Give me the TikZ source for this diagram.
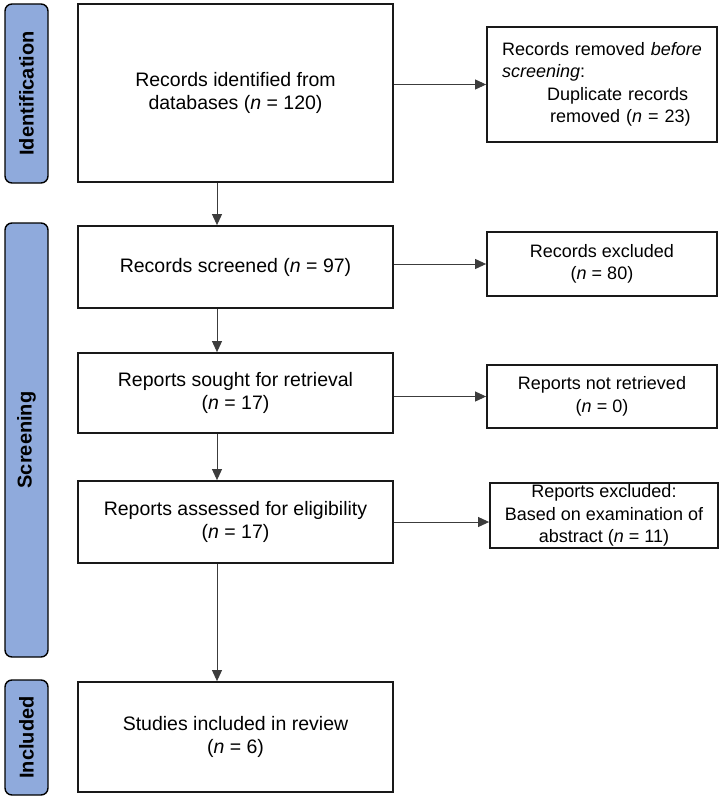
\documentclass[tikz,border=0pt]{standalone}
\usepackage{fontspec}
\setmainfont{Liberation Sans}
\usetikzlibrary{arrows.meta}
\definecolor{sideblue}{RGB}{143,170,220}
\definecolor{arrowgray}{RGB}{60,60,60}
\begin{document}
\begin{tikzpicture}[x=1pt,y=-1pt,
  mainbox/.style={draw=black!90, line width=1.8pt, rectangle, inner sep=0pt,
    minimum width=315pt, align=center,
    font=\fontsize{19.5}{23.5}\selectfont},
  sidebox/.style={draw=black!90, line width=1.8pt, rectangle, inner sep=0pt,
    minimum width=230pt, align=center,
    font=\fontsize{18}{22.5}\selectfont},
  phase/.style={draw=black, line width=1.4pt, fill=sideblue, rounded corners=7pt,
    rectangle, rotate=90, inner sep=0pt, minimum height=43pt,
    font=\fontsize{20}{24}\selectfont\bfseries},
  flow/.style={draw=arrowgray, line width=0.9pt, -{Triangle[length=11pt,width=10pt]}}
]
\useasboundingbox (0,0) rectangle (721,800);

% phase labels
\node[phase, minimum width=179pt] (s1) at (26.5,93.5) {Identification};
\node[phase, minimum width=434pt] (s2) at (26.5,440) {Screening};
\node[phase, minimum width=115pt] (s3) at (26.5,737.5) {Included};

% main column
\node[mainbox, minimum height=178pt] (b1) at (235.5,93) {Records identified from\\databases (\textit{n} = 120)};
\node[mainbox, minimum height=82pt] (b2) at (235.5,267) {Records screened (\textit{n} = 97)};
\node[mainbox, minimum height=80pt] (b3) at (235.5,393) {Reports sought for retrieval\\(\textit{n} = 17)};
\node[mainbox, minimum height=82pt] (b4) at (235.5,522) {Reports assessed for eligibility\\(\textit{n} = 17)};
\node[mainbox, minimum height=110pt] (b5) at (235.5,737) {Studies included in review\\(\textit{n} = 6)};

% right column
\node[sidebox, minimum height=115pt, text width=200pt, align=left] (r1) at (602,84.5)
  {\hyphenpenalty=10000 Records\hfill removed\hfill\textit{before}\\\textit{screening}:\\\hspace*{45pt}Duplicate records\\\hspace*{48pt}removed (\textit{n} = 23)};
\node[sidebox, minimum height=64pt] (r2) at (602,264) {Records excluded\\(\textit{n} = 80)};
\node[sidebox, minimum height=63pt] (r3) at (602,396.5) {Reports not retrieved\\(\textit{n} = 0)};
\node[sidebox, minimum height=65pt, minimum width=228pt] (r4) at (604,515.5) {Reports excluded:\\Based on examination of\\abstract (\textit{n} = 11)};

% vertical connectors
\coordinate (ax) at (217,0);
\draw[flow] (b1.south -| ax) -- (b2.north -| ax);
\draw[flow] (b2.south -| ax) -- (b3.north -| ax);
\draw[flow] (b3.south -| ax) -- (b4.north -| ax);
\draw[flow] (b4.south -| ax) -- (b5.north -| ax);

% horizontal connectors
\draw[flow] (b1.east |- r1.west) -- (r1.west);
\draw[flow] (b2.east |- r2.west) -- (r2.west);
\draw[flow] (b3.east |- r3.west) -- (r3.west);
\draw[flow] (b4.east) -- (b4.east -| r4.west);
\end{tikzpicture}
\end{document}
